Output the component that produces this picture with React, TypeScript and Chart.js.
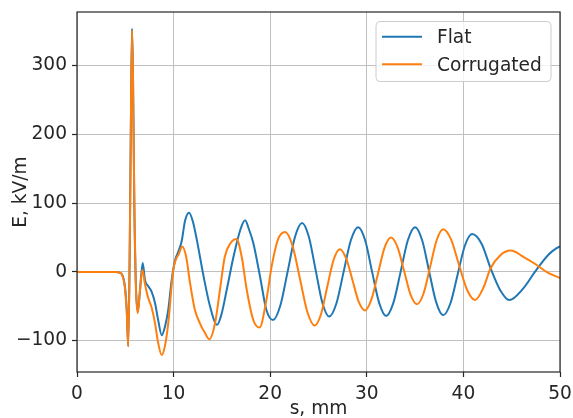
import React, { useEffect, useRef } from "react";
import { Chart, registerables } from "chart.js";

Chart.register(...registerables);

// Longitudinal position s (mm) and field E (kV/m) for the flat structure
const flatS = [
  0, 2, 4, 4.4, 4.7, 4.95, 5.15, 5.3, 5.45, 5.6, 5.7, 5.8, 5.95, 6.1, 6.3, 6.5, 6.8,
  7.04, 7.38, 7.73, 8.07, 8.4, 8.77, 9.1, 9.45, 9.8, 10.15, 10.45, 10.84, 11.18, 11.6,
  12.0, 12.4, 13.07, 13.77, 14.5, 14.95, 15.5, 16.2, 16.9, 17.4, 17.8, 18.25, 18.95,
  19.6, 20.3, 21.05, 21.8, 22.55, 23.3, 24.0, 24.7, 25.4, 26.1, 26.85, 27.6, 28.35,
  29.1, 29.83, 30.55, 31.28, 32.0, 32.75, 33.5, 34.25, 35.0, 35.73, 36.45, 37.18, 37.9,
  38.65, 39.4, 40.15, 40.9, 41.88, 42.85, 43.83, 44.75, 46.2, 47.4, 48.8, 49.65, 50,
];
const flatE = [
  0, 0, 0, -1, -5, -20, -55, -108, 20, 250, 354, 280, 80, -20, -58, -30, 13,
  -12, -21, -29, -45, -70, -92, -80, -55, -12, 17, 28, 45, 74, 86,
  73, 47, -4, -50, -77, -62, -26, 22, 61, 75, 62, 42, -7,
  -55, -70, -49, 0, 50, 71, 51, 3, -45, -65, -46, 0, 46,
  65, 46, 0, -45, -64, -45, 0, 46, 65, 46, 1, -44, -63,
  -46, -4, 38, 55, 41, 4, -27, -41, -24, 0, 25, 34.5, 37,
];

// Longitudinal position s (mm) and field E (kV/m) for the corrugated structure
const corrS = [
  0, 2, 4, 4.4, 4.7, 4.95, 5.15, 5.3, 5.45, 5.6, 5.7, 5.8, 5.95, 6.1, 6.28, 6.5, 6.76,
  7.04, 7.35, 7.73, 8.07, 8.4, 8.77, 9.1, 9.45, 9.97, 10.56, 10.9, 11.3, 11.7, 12.2,
  12.7, 13.25, 13.7, 14.3, 14.8, 15.3, 15.9, 16.5, 17.05, 17.57, 18.25, 18.9, 19.6,
  20.15, 20.8, 21.55, 22.31, 23.08, 23.84, 24.6, 25.25, 25.9, 26.55, 27.2, 27.85, 28.5,
  29.15, 29.8, 30.48, 31.15, 31.83, 32.5, 33.18, 33.85, 34.53, 35.2, 35.88, 36.55,
  37.23, 37.9, 38.73, 39.55, 40.38, 41.2, 42.1, 42.8, 43.8, 44.9, 46.2, 47.6, 48.6, 50,
];
const corrE = [
  0, 0, 0, -1, -5, -22, -58, -108, 20, 250, 352, 280, 80, -25, -60, -30, 3,
  -18, -37, -52, -74, -103, -121, -108, -74, 3, 27, 37, 22, -16, -55,
  -74, -89, -98, -74, -26, 22, 42, 48, 22, -26, -70, -81, -41,
  8, 47, 58, 38, -10, -58, -78, -62, -22, 17, 33, 20, -11,
  -43, -56, -40, -3, 35, 50, 36, 2, -33, -47, -31, 7,
  46, 62, 47, 10, -26, -41, -22, 5, 24, 31, 22, 10, 0, -9,
];

const xTicks = [0, 10, 20, 30, 40, 50];
const yTicks = [-100, 0, 100, 200, 300];
const seriesLabels = ["Flat", "Corrugated"];
const seriesColors = ["#1f77b4", "#ff7f0e"];

const FONT = "'DejaVu Sans', sans-serif";
const FONT_SIZE = 18.6;
const INK = "#262626";
const GRID = "#c0c0c0";

// Negative tick values use a true minus sign
const fmt = (v: number) => (v < 0 ? "\u2212" + String(-v) : String(v));

// Keep the plot box fixed: no extra room reserved for edge tick labels
const noEdgePadding = (s: any) => {
  s.paddingTop = 0;
  s.paddingBottom = 0;
  s.paddingLeft = 0;
  s.paddingRight = 0;
};

// Axes frame on all four sides plus a boxed legend in the upper right corner
const frameAndLegend = {
  id: "frameAndLegend",
  afterDraw(chart: any) {
    const { ctx, chartArea: a } = chart;
    ctx.save();
    ctx.strokeStyle = INK;
    ctx.lineWidth = 1.2;
    ctx.strokeRect(a.left, a.top, a.right - a.left, a.bottom - a.top);

    const bw = 175;
    const bh = 60;
    const bx = a.right - 9 - bw;
    const by = a.top + 9.5;
    const r = 4;
    ctx.beginPath();
    ctx.moveTo(bx + r, by);
    ctx.arcTo(bx + bw, by, bx + bw, by + bh, r);
    ctx.arcTo(bx + bw, by + bh, bx, by + bh, r);
    ctx.arcTo(bx, by + bh, bx, by, r);
    ctx.arcTo(bx, by, bx + bw, by, r);
    ctx.closePath();
    ctx.fillStyle = "rgba(255,255,255,0.8)";
    ctx.fill();
    ctx.strokeStyle = "#cccccc";
    ctx.lineWidth = 1;
    ctx.stroke();

    ctx.font = `${FONT_SIZE}px ${FONT}`;
    ctx.textAlign = "left";
    ctx.textBaseline = "alphabetic";
    chart.data.datasets.forEach((ds: any, i: number) => {
      const ly = by + 15.2 + i * 27.6;
      ctx.strokeStyle = ds.borderColor;
      ctx.lineWidth = 2;
      ctx.beginPath();
      ctx.moveTo(bx + 6, ly);
      ctx.lineTo(bx + 46, ly);
      ctx.stroke();
      ctx.fillStyle = INK;
      ctx.fillText(ds.label, bx + 61, ly + FONT_SIZE * 0.365);
    });
    ctx.restore();
  },
};

export default function App() {
  const canvasRef = useRef<HTMLCanvasElement | null>(null);

  useEffect(() => {
    const canvas = canvasRef.current;
    if (!canvas) return;
    const font = { family: FONT, size: FONT_SIZE };

    const chart = new Chart(canvas, {
      type: "line",
      data: {
        datasets: [
          {
            label: seriesLabels[0],
            data: flatS.map((x, i) => ({ x, y: flatE[i] })),
            borderColor: seriesColors[0],
            backgroundColor: seriesColors[0],
            borderWidth: 2,
            pointRadius: 0,
            fill: false,
            tension: 0.4,
            cubicInterpolationMode: "monotone",
            order: 1,
          },
          {
            label: seriesLabels[1],
            data: corrS.map((x, i) => ({ x, y: corrE[i] })),
            borderColor: seriesColors[1],
            backgroundColor: seriesColors[1],
            borderWidth: 2,
            pointRadius: 0,
            fill: false,
            tension: 0.4,
            cubicInterpolationMode: "monotone",
            order: 0,
          },
        ],
      },
      options: {
        responsive: false,
        animation: false,
        devicePixelRatio: 1,
        layout: { padding: { top: 12, right: 13, left: 0, bottom: 0 } },
        plugins: {
          legend: { display: false },
          tooltip: { enabled: false },
          title: { display: false },
        },
        scales: {
          x: {
            type: "linear",
            min: 0,
            max: 50,
            afterBuildTicks: (s: any) => {
              s.ticks = xTicks.map((v) => ({ value: v }));
            },
            afterFit: (s: any) => {
              s.height = 46;
              noEdgePadding(s);
            },
            grid: {
              color: GRID,
              lineWidth: 1,
              tickColor: INK,
              tickLength: 5,
              tickWidth: 1.2,
              drawTicks: true,
            },
            border: { display: false },
            ticks: {
              color: INK,
              font,
              padding: 6,
              maxRotation: 0,
              autoSkip: false,
              callback: (v: any) => fmt(Number(v)),
            },
            title: {
              display: true,
              text: "s, mm",
              color: INK,
              font,
              padding: { top: 0, bottom: -2.5 },
            },
          },
          y: {
            type: "linear",
            min: -145.6,
            max: 378,
            afterBuildTicks: (s: any) => {
              s.ticks = yTicks.map((v) => ({ value: v }));
            },
            afterFit: (s: any) => {
              s.width = 77;
              noEdgePadding(s);
            },
            grid: {
              color: GRID,
              lineWidth: 1,
              tickColor: INK,
              tickLength: 5,
              tickWidth: 1.2,
              drawTicks: true,
            },
            border: { display: false },
            ticks: {
              color: INK,
              font,
              padding: 5,
              autoSkip: false,
              callback: (v: any) => fmt(Number(v)),
            },
            title: {
              display: true,
              text: "E, kV/m",
              color: INK,
              font,
              padding: { top: 10.5, bottom: 0 },
            },
          },
        },
      },
      plugins: [frameAndLegend],
    } as any);

    return () => chart.destroy();
  }, []);

  return (
    <div
      style={{
        position: "fixed",
        left: 0,
        top: 0,
        width: 573,
        height: 418,
        background: "#ffffff",
      }}
    >
      <canvas ref={canvasRef} width={573} height={418} style={{ display: "block" }} />
    </div>
  );
}
